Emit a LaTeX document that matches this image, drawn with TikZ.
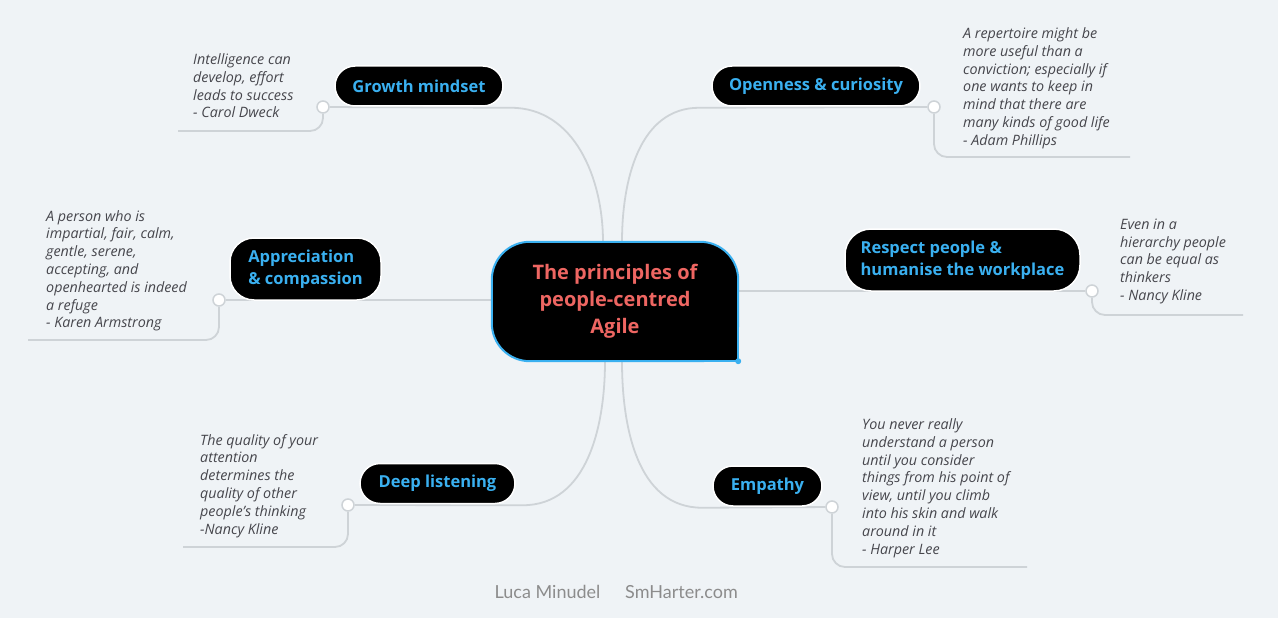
\documentclass[tikz,border=0pt]{standalone}
\usepackage{fontspec}
\setmainfont{Open Sans}
\newfontfamily\footfont{Lato}
\usetikzlibrary{backgrounds}

\definecolor{paper}{RGB}{239,243,246}
\definecolor{linegray}{RGB}{206,211,215}
\definecolor{skyblue}{RGB}{58,176,240}
\definecolor{salmon}{RGB}{238,102,98}
\definecolor{quotegray}{RGB}{70,70,76}
\definecolor{footgray}{RGB}{140,140,140}

\begin{document}
\begin{tikzpicture}[x=1pt,y=-1pt,
  hub/.style={inner sep=0pt, minimum width=246pt, minimum height=119pt, align=center,
    text=salmon, font=\fontsize{20}{27}\selectfont\bfseries},
  branch/.style={draw=white, line width=1.5pt, fill=black, rounded corners=20pt,
    minimum height=40pt, inner sep=0pt, text=skyblue, font=\fontsize{16.5}{22}\selectfont\bfseries},
  quote/.style={anchor=north west, inner sep=0pt, align=left, text=quotegray,
    font=\fontsize{14.3}{17.8}\selectfont\itshape},
  dot/.style={circle, draw=linegray, fill=white, line width=1.5pt, minimum size=12pt, inner sep=0pt},
  wireline/.style={draw=linegray, line width=1.8pt},
  foot/.style={text=footgray, font=\footfont\fontsize{18}{20}\selectfont}]

% centre
\node (hub) [hub] at (615,301.5) {The principles of\\people-centred\\Agile};

% principles
\node (growth) [branch, minimum width=168pt] at (419,86) {Growth mindset};
\node (open) [branch, minimum width=208pt] at (816,86) {Openness \& curiosity};
\node (appr) [branch, minimum width=151pt, minimum height=62pt, align=left, rounded corners=24pt] at (305.5,269) {Appreciation\\\& compassion};
\node (resp) [branch, minimum width=235pt, minimum height=62pt, align=left, rounded corners=26pt] at (962.5,260) {Respect people \&\\humanise the workplace};
\node (deep) [branch, minimum width=155pt] at (437.5,483.5) {Deep listening};
\node (emp) [branch, minimum width=109pt] at (767.5,486) {Empathy};

% joints
\node (gdot) [dot] at (323,107) {};
\node (odot) [dot] at (934,107) {};
\node (adot) [dot] at (219,300) {};
\node (rdot) [dot] at (1092,291) {};
\node (ddot) [dot] at (348,505) {};
\node (edot) [dot] at (832,507) {};

\coordinate (gend) at (178,131);
\coordinate (oend) at (1130,157);
\coordinate (aend) at (28,340);
\coordinate (rend) at (1243,315);
\coordinate (dend) at (183,547);
\coordinate (eend) at (1027,567);

% quotes
\node (gq) [quote] at (193,53.5) {Intelligence can\\develop, effort\\leads to success\\- Carol Dweck};
\node (oq) [quote] at (963,27.5) {A repertoire might be\\more useful than a\\conviction; especially if\\one wants to keep in\\mind that there are\\many kinds of good life\\- Adam Phillips};
\node (aq) [quote] at (46,210) {A person who is\\impartial, fair, calm,\\gentle, serene,\\accepting, and\\openhearted is indeed\\a refuge\\- Karen Armstrong};
\node (rq) [quote] at (1120,218.5) {Even in a\\hierarchy people\\can be equal as\\thinkers\\- Nancy Kline};
\node (dq) [quote] at (200,434) {The quality of your\\attention\\determines the\\quality of other\\people’s thinking\\-Nancy Kline};
\node (eq) [quote] at (862,418.5) {You never really\\understand a person\\until you consider\\things from his point of\\view, until you climb\\into his skin and walk\\around in it\\- Harper Lee};

\node (author) [foot] at (547.5,592) {Luca Minudel};
\node (site) [foot] at (681.5,592) {SmHarter.com};

\begin{scope}[on background layer]
\fill[paper] (0,0) rectangle (1278,618);
\draw[wireline] ([xshift=-12pt]hub.north) to[out=90,in=0] ([xshift=7pt,yshift=-1pt]growth.south east) -- (gdot);
\draw[wireline] ([xshift=7pt]hub.north) to[out=90,in=180] ([xshift=-12pt,yshift=-1pt]open.south west) -- (odot);
\draw[wireline] (hub.west |- adot) -- (adot);
\draw[wireline] (hub.east |- rdot) -- (rdot);
\draw[wireline] ([xshift=-10pt]hub.south) to[out=-90,in=0] ([xshift=7pt,yshift=-1pt]deep.south east) -- (ddot);
\draw[wireline] ([xshift=7pt]hub.south) to[out=-90,in=180] ([xshift=-10pt,yshift=-1pt]emp.south west) -- (edot);
\begin{scope}[rounded corners=13pt]
\draw[wireline] (gdot.south) |- (gend);
\draw[wireline] (odot.south) |- (oend);
\draw[wireline] (adot.south) |- (aend);
\draw[wireline] (rdot.south) |- (rend);
\draw[wireline] (ddot.south) |- (dend);
\draw[wireline] (edot.south) |- (eend);
\end{scope}
% hub box, square bottom right corner
\filldraw[fill=black, draw=skyblue, line width=2pt, rounded corners=38pt] (hub.north west) rectangle (hub.south east);
\fill[black] ([xshift=-39pt,yshift=39pt]hub.south east) rectangle ([xshift=1pt,yshift=-1pt]hub.south east);
\draw[skyblue, line width=2pt] ([xshift=-39pt]hub.south east) -- (hub.south east) -- ([yshift=39pt]hub.south east);
\fill[skyblue] (hub.south east) circle (3pt);
\end{scope}
\end{tikzpicture}
\end{document}
